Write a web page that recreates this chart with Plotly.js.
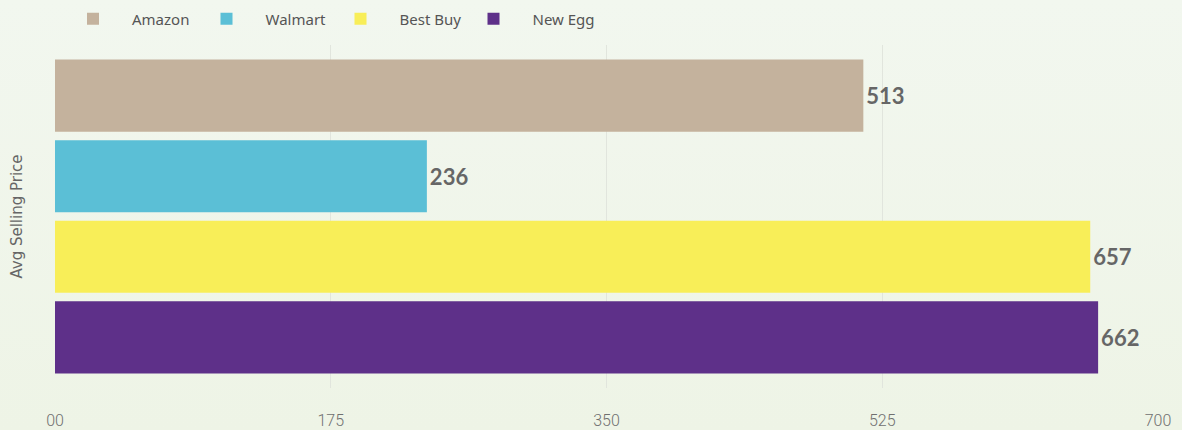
<!DOCTYPE html>
<html>
<head>
<meta charset="utf-8">
<script src="https://cdn.plot.ly/plotly-3.0.1.min.js"></script>
<style>
html,body{margin:0;padding:0;}
#chart{width:1182px;height:430px;background:linear-gradient(to bottom,#f2f7ef 0%,#eef4e6 100%);}
</style>
</head>
<body>
<div id="chart"></div>
<script>
const categories = ['Avg Selling Price'];
const seriesNames = ['Amazon', 'Walmart', 'Best Buy', 'New Egg'];
const seriesValues = [[513], [236], [657], [662]];
const seriesColors = ['#c4b29d', '#5bbfd6', '#f8ee58', '#5e3089'];
const tickVals = [0, 175, 350, 525, 700];
const tickText = ['00', '175', '350', '525', '700'];

const legendIds = ['legend', 'legend2', 'legend3', 'legend4'];
const legendLeft = [54, 187.5, 321.5, 454.5]; // px from left of figure

const traces = seriesNames.map((name, i) => ({
  type: 'bar',
  orientation: 'h',
  name: name,
  y: categories,
  x: seriesValues[i],
  legend: legendIds[i],
  marker: {color: seriesColors[i]},
  text: seriesValues[i].map(String),
  textposition: 'outside',
  cliponaxis: false,
  textfont: {family: 'Lato, sans-serif', size: 22, color: '#666666', weight: 'bold'},
  hoverinfo: 'x+name'
}));

const W = 1182, H = 430;
const layout = {
  width: W,
  height: H,
  paper_bgcolor: 'rgba(0,0,0,0)',
  plot_bgcolor: 'rgba(0,0,0,0)',
  margin: {l: 55, r: 24, t: 45, b: 42},
  barmode: 'group',
  bargap: 0.06,
  bargroupgap: 0.105,
  showlegend: true,
  xaxis: {
    range: [0, 700],
    tickvals: tickVals,
    ticktext: tickText,
    showgrid: true,
    gridcolor: '#e1e5dd',
    gridwidth: 1,
    zeroline: false,
    showline: false,
    ticks: 'outside',
    ticklen: 18,
    tickcolor: 'rgba(0,0,0,0)',
    tickfont: {family: 'Roboto, sans-serif', size: 16, color: '#707070', weight: 300},
    fixedrange: true
  },
  yaxis: {
    autorange: 'reversed',
    showticklabels: false,
    showgrid: false,
    zeroline: false,
    showline: false,
    title: {text: 'Avg Selling Price', standoff: 27, font: {family: 'DejaVu Sans, sans-serif', size: 15, color: '#666666'}},
    fixedrange: true
  }
};

legendIds.forEach((id, i) => {
  layout[id] = {
    orientation: 'h',
    xref: 'container', x: legendLeft[i] / W, xanchor: 'left',
    yref: 'container', y: 1 - 19 / H, yanchor: 'middle',
    font: {family: 'Noto Sans, sans-serif', size: 15, color: '#555555'},
    itemwidth: 68,
    bgcolor: 'rgba(0,0,0,0)'
  };
});

Plotly.newPlot('chart', traces, layout, {displayModeBar: false, responsive: false});
</script>
</body>
</html>
